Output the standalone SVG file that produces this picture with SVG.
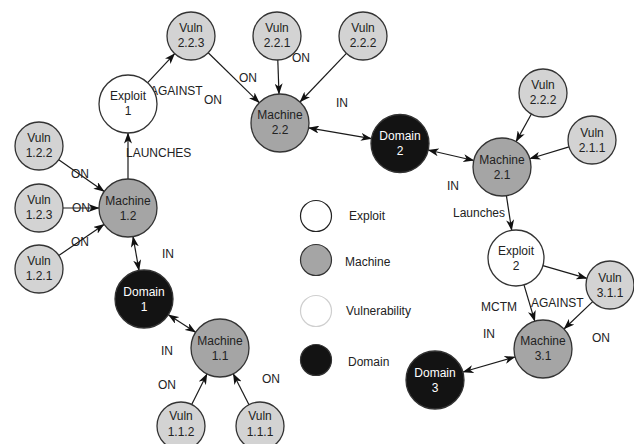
<svg xmlns="http://www.w3.org/2000/svg" width="634" height="444" viewBox="0 0 634 444">
<defs>
<marker id="ah" viewBox="0 0 11 8" markerWidth="11" markerHeight="8" refX="10.5" refY="4" orient="auto-start-reverse" markerUnits="userSpaceOnUse">
<path d="M0,0 L11,4 L0,8 L3,4 Z" fill="#111"/>
</marker>
</defs>
<style>
.n circle{stroke:#333;stroke-width:1.3}
.v circle{fill:#d3d3d3}
.m circle{fill:#a5a5a5}
.e circle{fill:#fff}
.d circle{fill:#131313}
text{font-family:"Liberation Sans",Arial,sans-serif;font-size:12px;fill:#222}
.n text{text-anchor:middle}
.d text{fill:#fff}
.c line{stroke:#1a1a1a;stroke-width:1.2;fill:none}
.one line{marker-end:url(#ah)}
.two line{marker-start:url(#ah);marker-end:url(#ah)}
</style>
<rect width="634" height="444" fill="#fff"/>
<g id="connectors" class="c">
<g class="one">
<line x1="147.7" y1="82.7" x2="174.7" y2="53.6"/>
<line x1="208.2" y1="52.8" x2="259.3" y2="102.7"/>
<line x1="277.8" y1="60" x2="279" y2="94"/>
<line x1="346.4" y1="53.4" x2="300" y2="102"/>
<line x1="531.4" y1="114" x2="516.1" y2="141.6"/>
<line x1="569" y1="146.9" x2="529.8" y2="158.7"/>
<line x1="506.4" y1="195.7" x2="511.7" y2="230.3"/>
<line x1="542.9" y1="265.7" x2="586.9" y2="278.4"/>
<line x1="524" y1="284.9" x2="534.8" y2="321.2"/>
<line x1="592.7" y1="301.6" x2="564" y2="329"/>
<line x1="128" y1="179" x2="128" y2="133"/>
<line x1="58.7" y1="159.7" x2="104.2" y2="191.4"/>
<line x1="63" y1="208" x2="99" y2="208"/>
<line x1="58.8" y1="255.4" x2="104.1" y2="224.4"/>
<line x1="191.7" y1="404.5" x2="207" y2="373.9"/>
<line x1="249" y1="404.7" x2="233.2" y2="373.8"/>
</g>
<g class="two">
<line x1="308.6" y1="127.9" x2="371.4" y2="138.6"/>
<line x1="428.2" y1="150" x2="473.8" y2="160.5"/>
<line x1="515.1" y1="357" x2="462.9" y2="372"/>
<line x1="133" y1="236.6" x2="139" y2="270.4"/>
<line x1="168.4" y1="314.7" x2="195.6" y2="332.3"/>
</g>
<g id="edge-labels">
<text x="239" y="82">ON</text>
<text x="150" y="95">AGAINST</text>
<text x="204" y="104">ON</text>
<text x="292" y="62">ON</text>
<text x="126" y="157">LAUNCHES</text>
<text x="71" y="178">ON</text>
<text x="72" y="212">ON</text>
<text x="71" y="246">ON</text>
<text x="162" y="258">IN</text>
<text x="161" y="355">IN</text>
<text x="158" y="389">ON</text>
<text x="262" y="383">ON</text>
<text x="336" y="107">IN</text>
<text x="447" y="190">IN</text>
<text x="453" y="217">Launches</text>
<text x="481" y="311">MCTM</text>
<text x="531" y="307">AGAINST</text>
<text x="483" y="338">IN</text>
<text x="592" y="342">ON</text>
</g>
</g>
<g id="vuln223" class="n v"><circle cx="191" cy="36" r="24"/><text x="191" y="32">Vuln</text><text x="191" y="47">2.2.3</text></g>
<g id="vuln221" class="n v"><circle cx="277" cy="36" r="24"/><text x="277" y="32">Vuln</text><text x="277" y="47">2.2.1</text></g>
<g id="vuln222a" class="n v"><circle cx="363" cy="36" r="24"/><text x="363" y="32">Vuln</text><text x="363" y="47">2.2.2</text></g>
<g id="exploit1" class="n e"><circle cx="128" cy="104" r="29"/><text x="128" y="100">Exploit</text><text x="128" y="115">1</text></g>
<g id="machine22" class="n m"><circle cx="280" cy="123" r="29"/><text x="280" y="119">Machine</text><text x="280" y="134">2.2</text></g>
<g id="domain2" class="n d"><circle cx="400" cy="143.5" r="29"/><text x="400" y="140">Domain</text><text x="400" y="155">2</text></g>
<g id="vuln222b" class="n v"><circle cx="543" cy="93" r="24"/><text x="543" y="89">Vuln</text><text x="543" y="104">2.2.2</text></g>
<g id="vuln211" class="n v"><circle cx="592" cy="140" r="24"/><text x="592" y="137">Vuln</text><text x="592" y="152">2.1.1</text></g>
<g id="machine21" class="n m"><circle cx="502" cy="167" r="29"/><text x="502" y="164">Machine</text><text x="502" y="179">2.1</text></g>
<g id="vuln122" class="n v"><circle cx="39" cy="146" r="24"/><text x="39" y="142">Vuln</text><text x="39" y="157">1.2.2</text></g>
<g id="vuln123" class="n v"><circle cx="39" cy="208" r="24"/><text x="39" y="204">Vuln</text><text x="39" y="219">1.2.3</text></g>
<g id="machine12" class="n m"><circle cx="128" cy="208" r="29"/><text x="128" y="205">Machine</text><text x="128" y="220">1.2</text></g>
<g id="vuln121" class="n v"><circle cx="39" cy="269" r="24"/><text x="39" y="265">Vuln</text><text x="39" y="280">1.2.1</text></g>
<g id="domain1" class="n d"><circle cx="144" cy="299" r="29"/><text x="144" y="296">Domain</text><text x="144" y="311">1</text></g>
<g id="machine11" class="n m"><circle cx="220" cy="348" r="29"/><text x="220" y="345">Machine</text><text x="220" y="360">1.1</text></g>
<g id="vuln112" class="n v"><circle cx="181" cy="426" r="24"/><text x="181" y="420">Vuln</text><text x="181" y="436">1.1.2</text></g>
<g id="vuln111" class="n v"><circle cx="260" cy="426" r="24"/><text x="260" y="420">Vuln</text><text x="260" y="436">1.1.1</text></g>
<g id="exploit2" class="n e"><circle cx="516" cy="258" r="28"/><text x="516" y="255">Exploit</text><text x="516" y="270">2</text></g>
<g id="vuln311" class="n v"><circle cx="610" cy="285" r="24"/><text x="610" y="282">Vuln</text><text x="610" y="297">3.1.1</text></g>
<g id="machine31" class="n m"><circle cx="543" cy="349" r="29"/><text x="543" y="345">Machine</text><text x="543" y="360">3.1</text></g>
<g id="domain3" class="n d"><circle cx="435" cy="380" r="29"/><text x="435" y="377">Domain</text><text x="435" y="392">3</text></g>
<g id="legend">
<circle cx="316" cy="216" r="15.5" fill="#fff" stroke="#222" stroke-width="1.2"/>
<circle cx="316" cy="260" r="15.5" fill="#a5a5a5" stroke="#333" stroke-width="1.2"/>
<circle cx="316" cy="311" r="15.5" fill="#fff" stroke="#cfcfcf" stroke-width="1.2"/>
<circle cx="316" cy="360" r="15.5" fill="#131313" stroke="#333" stroke-width="1.2"/>
<text x="349" y="220">Exploit</text>
<text x="345" y="266">Machine</text>
<text x="346" y="315">Vulnerability</text>
<text x="348" y="366">Domain</text>
</g>
</svg>
